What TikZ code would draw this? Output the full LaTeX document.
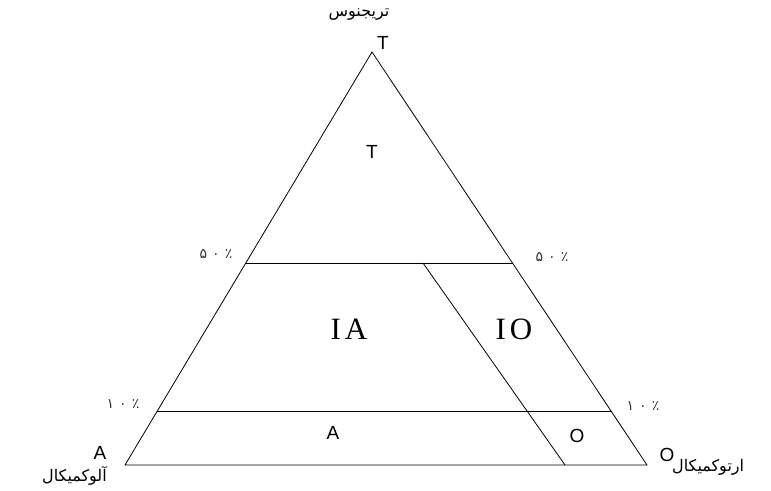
\documentclass[tikz,border=0pt]{standalone}
\usepackage{fontspec}
\setmainfont{Liberation Sans}
\newfontfamily\serifr{Liberation Serif}
\newfontfamily\arabicfont[Script=Arabic]{DejaVu Sans}
\TeXXeTstate=1
\usetikzlibrary{calc}
\tikzset{
  edge/.style={draw=black, line width=0.8pt},
  latin/.style={inner sep=0pt, font=\fontsize{19}{19}\selectfont},
  roman/.style={inner sep=0pt, font=\serifr\fontsize{31}{31}\selectfont},
  fa/.style={inner sep=0pt, font=\arabicfont\fontsize{16}{18}\selectfont},
  pct/.style={inner sep=0pt, font=\arabicfont\fontsize{14}{15}\selectfont, text=black!80},
}
\newcommand{\pcgap}{\hspace{5pt}}
\begin{document}
\begin{tikzpicture}[x=1pt, y=-1pt]
\useasboundingbox (0,0) rectangle (771,490);
\coordinate (A) at (125,465);
\coordinate (O) at (647,465);
\coordinate (T) at (372,52);
\coordinate (L50) at ($(A)!0.489!(T)$);
\coordinate (R50) at ($(O)!0.489!(T)$);
\coordinate (L10) at ($(A)!0.1308!(T)$);
\coordinate (R10) at ($(O)!0.1308!(T)$);
\coordinate (M50) at (423,263);
\coordinate (M0) at (565,465);
\draw[edge] (A) -- (T) -- (O) -- cycle;
\draw[edge] (L50) -- (R50);
\draw[edge] (L10) -- (R10);
\draw[edge] (M50) -- (M0);
% labels
\node[fa] (ttop) at (359,15) {\beginR تریجنوس\endR};
\node[latin] (tap) at (383,43) {T};
\node[latin] (tin) at (372,152) {T};
\node[pct] (p50l) at (216,254) {۵\pcgap۰\pcgap٪};
\node[pct] (p50r) at (552,257) {۵\pcgap۰\pcgap٪};
\node[roman] (ia) at (349,329) {I\hspace{4pt}A};
\node[roman] (io) at (514,329) {I\hspace{4pt}O};
\node[pct] (p10l) at (123,404) {۱\pcgap۰\pcgap٪};
\node[pct] (p10r) at (643,406) {۱\pcgap۰\pcgap٪};
\node[latin] (ain) at (333,433) {A};
\node[latin] (oin) at (577,436) {O};
\node[latin] (acor) at (100,453) {A};
\node[fa, anchor=east] (afa) at (107,476) {\beginR آلوکمیکال\endR};
\node[latin] (ocor) at (667,455) {O};
\node[fa, anchor=west] (ofa) at (672,467) {\beginR ارتوکمیکال\endR};
\end{tikzpicture}
\end{document}
